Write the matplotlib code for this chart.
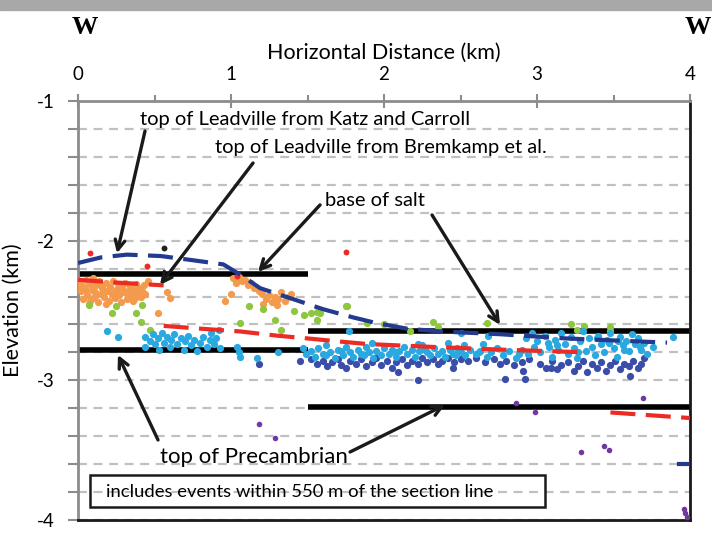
import matplotlib.pyplot as plt
from matplotlib.patches import Rectangle

plt.rcParams['font.family'] = ['Lato', 'DejaVu Sans']
plt.rcParams['axes.unicode_minus'] = False

# --- event clouds (x = horizontal distance km, y = elevation km) ---
orange_x = [0.01, 0.02, 0.03, 0.04, 0.05, 0.06, 0.07, 0.08, 0.09, 0.10, 0.10, 0.11, 0.12, 0.13, 0.14, 0.15,
            0.16, 0.17, 0.18, 0.19, 0.20, 0.21, 0.22, 0.23, 0.24, 0.25, 0.26, 0.27, 0.28, 0.29, 0.30, 0.31,
            0.32, 0.33, 0.34, 0.35, 0.36, 0.37, 0.38, 0.39, 0.40, 0.41, 0.42, 0.43, 0.44, 0.05, 0.12, 0.18,
            0.24, 0.33, 0.02, 0.08, 0.15, 0.27, 0.36, 0.58, 0.60, 0.52, 0.46,
            1.01, 1.03, 1.05, 1.07, 1.09, 1.11, 1.13, 1.15, 1.18, 1.00, 1.20, 1.23, 1.25, 1.27, 1.29, 1.31,
            1.33, 1.35, 1.37, 1.39, 1.21, 1.30, 0.96]
orange_y = [-2.30, -2.36, -2.42, -2.33, -2.28, -2.39, -2.45, -2.31, -2.35, -2.27, -2.41, -2.37, -2.32, -2.44,
            -2.29, -2.38, -2.34, -2.40, -2.30, -2.36, -2.43, -2.33, -2.38, -2.29, -2.41, -2.35, -2.31, -2.39,
            -2.44, -2.34, -2.37, -2.30, -2.42, -2.36, -2.33, -2.39, -2.35, -2.41, -2.31, -2.37, -2.34, -2.40,
            -2.36, -2.32, -2.38, -2.35, -2.39, -2.45, -2.37, -2.40, -2.33, -2.43, -2.31, -2.34, -2.43, -2.37,
            -2.41, -2.52, -2.29,
            -2.27, -2.30, -2.26, -2.29, -2.28, -2.32, -2.30, -2.34, -2.36, -2.38, -2.38, -2.42, -2.39, -2.44,
            -2.40, -2.42, -2.37, -2.43, -2.40, -2.38, -2.45, -2.46, -2.43]

green_x = [0.07, 0.22, 0.25, 0.38, 0.42, 0.41, 0.47, 1.06, 1.12, 1.21, 1.29, 1.33, 1.41, 1.48, 1.56, 1.56,
           1.75, 1.52, 1.58, 1.76, 1.89, 2.00, 2.17, 2.32, 2.35, 2.67, 3.22, 3.31, 3.48, 3.48, 3.26]
green_y = [-2.46, -2.52, -2.47, -2.52, -2.46, -2.58, -2.64, -2.59, -2.47, -2.49, -2.57, -2.64, -2.50, -2.53,
           -2.51, -2.57, -2.47, -2.52, -2.52, -2.47, -2.59, -2.60, -2.65, -2.58, -2.62, -2.59, -2.60, -2.61,
           -2.62, -2.65, -2.64]

lblue_x = [0.19, 0.26, 0.44, 0.44, 0.47, 0.49, 0.50, 0.52, 0.53, 0.55, 0.56, 0.58, 0.60, 0.61, 0.63, 0.65,
           0.67, 0.69, 0.70, 0.72, 0.74, 0.76, 0.78, 0.80, 0.82, 0.84, 0.86, 0.87, 0.89, 0.90, 0.92, 0.93,
           1.04, 1.05, 1.06, 1.17, 1.31, 1.47, 1.49,
           1.52, 1.55, 1.57, 1.60, 1.62, 1.65, 1.68, 1.70, 1.73, 1.75, 1.78, 1.80, 1.83, 1.85, 1.88, 1.90,
           1.93, 1.95, 1.98, 2.00, 2.03, 2.05, 2.08, 2.10, 2.13, 2.15, 2.18, 2.20, 2.23, 2.25, 2.28, 2.30,
           2.33, 2.35, 2.38, 2.40, 2.43, 2.45, 2.48, 2.50, 2.53, 2.56, 2.60, 2.63, 2.67, 2.70, 2.74, 2.78,
           2.82, 2.86, 2.90, 2.94, 2.98, 1.92, 2.22, 2.52, 2.42, 2.65,
           3.00, 3.02, 3.05, 3.08, 3.10, 3.12, 3.14, 3.16, 3.18, 3.20, 3.22, 3.24, 3.26, 3.28, 3.30, 3.32,
           3.34, 3.36, 3.38, 3.40, 3.42, 3.44, 3.46, 3.48, 3.50, 3.52, 3.54, 3.56, 3.58, 3.60, 3.62, 3.64,
           3.66, 3.68, 3.70, 3.72, 3.76, 3.89, 2.68, 2.93, 2.50, 1.77, 2.97,
           1.62, 1.72, 1.87, 2.07, 2.27, 2.47, 2.62, 2.88, 3.07, 3.27, 3.47, 3.57, 3.67, 3.13, 3.39, 3.53]
lblue_y = [-2.65, -2.69, -2.69, -2.76, -2.72, -2.67, -2.74, -2.70, -2.78, -2.66, -2.73, -2.69, -2.76, -2.71,
           -2.67, -2.74, -2.70, -2.78, -2.72, -2.68, -2.75, -2.71, -2.79, -2.73, -2.69, -2.76, -2.71, -2.66,
           -2.74, -2.70, -2.64, -2.77, -2.76, -2.80, -2.83, -2.84, -2.80, -2.77, -2.81,
           -2.79, -2.83, -2.77, -2.81, -2.75, -2.80, -2.84, -2.78, -2.82, -2.76, -2.80, -2.83, -2.78, -2.81,
           -2.76, -2.80, -2.84, -2.79, -2.82, -2.77, -2.81, -2.78, -2.83, -2.79, -2.76, -2.81, -2.78, -2.83,
           -2.79, -2.75, -2.80, -2.82, -2.77, -2.81, -2.79, -2.83, -2.78, -2.81, -2.77, -2.80, -2.82, -2.78,
           -2.81, -2.79, -2.83, -2.80, -2.77, -2.82, -2.79, -2.84, -2.78, -2.81, -2.76, -2.73, -2.74, -2.75,
           -2.73, -2.74,
           -2.72, -2.80, -2.68, -2.76, -2.83, -2.71, -2.78, -2.66, -2.74, -2.81, -2.69, -2.77, -2.84, -2.72,
           -2.65, -2.79, -2.70, -2.76, -2.82, -2.68, -2.74, -2.80, -2.71, -2.66, -2.77, -2.83, -2.69, -2.75,
           -2.72, -2.79, -2.67, -2.74, -2.70, -2.78, -2.73, -2.81, -2.76, -2.69, -2.68, -2.70, -2.66, -2.65,
           -2.66,
           -2.82, -2.79, -2.82, -2.80, -2.78, -2.82, -2.80, -2.81, -2.73, -2.80, -2.73, -2.78, -2.76, -2.75,
           -2.70, -2.72]

dblue_x = [1.18, 1.45, 1.52, 1.56, 1.60, 1.63, 1.66, 1.70, 1.72, 1.78, 1.82, 1.85, 1.88, 1.92, 1.95, 1.98,
           2.02, 2.05, 2.08, 2.12, 2.15, 2.18, 2.22, 2.25, 2.28, 2.32, 2.35, 2.38, 2.42, 2.46, 2.50, 2.55,
           2.60, 2.66, 2.72, 2.76, 2.80, 2.85, 2.90, 2.95, 3.02, 3.06, 3.10, 3.13, 3.16, 3.20, 3.24, 3.27,
           3.30, 3.33, 3.36, 3.39, 3.42, 3.45, 3.48, 3.51, 3.54, 3.57, 3.60, 3.63, 3.66, 3.68, 3.70,
           1.75, 2.09, 2.22, 2.45, 2.79, 2.91, 2.92, 3.09, 3.61]
dblue_y = [-2.88, -2.86, -2.85, -2.88, -2.86, -2.90, -2.87, -2.85, -2.89, -2.86, -2.88, -2.85, -2.90, -2.87,
           -2.84, -2.89, -2.86, -2.91, -2.87, -2.85, -2.89, -2.86, -2.88, -2.84, -2.87, -2.85, -2.88, -2.86,
           -2.84, -2.87, -2.85, -2.86, -2.84, -2.87, -2.85, -2.88, -2.86, -2.89, -2.87, -2.85, -2.88, -2.91,
           -2.86, -2.92, -2.89, -2.87, -2.93, -2.90, -2.86, -2.94, -2.88, -2.91, -2.87, -2.93, -2.89, -2.86,
           -2.92, -2.88, -2.90, -2.86, -2.91, -2.88, -2.84,
           -2.91, -2.94, -3.00, -2.91, -2.99, -2.93, -2.99, -2.91, -2.97]

purple_x = [1.18, 1.29, 2.86, 2.99, 3.69, 3.29, 3.44, 3.47, 3.96, 3.97, 3.98]
purple_y = [-3.31, -3.41, -3.16, -3.23, -3.13, -3.51, -3.47, -3.50, -3.92, -3.95, -3.98]

red_x = [0.08, 0.45, 1.75, 1.04]
red_y = [-2.09, -2.18, -2.08, -2.25]
black_x = [0.56]
black_y = [-2.05]

# --- interpreted horizons ---
katz_x = [0, 0.15, 0.32, 0.54, 0.75, 0.95, 1.07, 1.19, 1.41, 1.6, 1.8, 1.95, 2.15, 2.37, 2.76, 3.19, 3.85]
katz_y = [-2.16, -2.12, -2.10, -2.11, -2.14, -2.17, -2.25, -2.34, -2.42, -2.49, -2.55, -2.59, -2.63,
          -2.65, -2.67, -2.70, -2.73]
katz2_x = [3.93, 4.0]
katz2_y = [-3.60, -3.60]

brem1_x = [0, 0.25, 0.56]
brem1_y = [-2.28, -2.30, -2.32]
brem2_x = [0.56, 0.8, 1.06, 1.3, 1.5, 1.69, 1.89, 2.3, 2.76, 3.33]
brem2_y = [-2.61, -2.63, -2.65, -2.68, -2.70, -2.72, -2.74, -2.76, -2.78, -2.80]
brem3_x = [3.48, 4.0]
brem3_y = [-3.23, -3.27]

salt_x = [[0, 1.5], [1.5, 4.0]]
salt_y = [-2.24, -2.65]
precamb_x = [[0, 1.5], [1.5, 4.0]]
precamb_y = [-2.78, -3.19]

fig = plt.figure(figsize=(7.12, 5.33), dpi=100)
fig.patches.append(Rectangle((0, 1 - 10 / 533), 1, 10 / 533, transform=fig.transFigure,
                             color='#a8a8a8', zorder=0))
ax = fig.add_axes([78 / 712, 1 - 520 / 533, 612 / 712, 419 / 533])
ax.set_xlim(0, 4)
ax.set_ylim(-4, -1)

# gridlines
ax.set_yticks([-4, -3, -2, -1])
ax.set_yticks([-3.8, -3.6, -3.4, -3.2, -2.8, -2.6, -2.4, -2.2, -1.8, -1.6, -1.4, -1.2], minor=True)
ax.yaxis.grid(True, which='both', ls=(0, (4, 3)), color='#c0c0c0', lw=1.6, zorder=0)
ax.set_axisbelow(True)

# black horizons
for xs, yv in zip(salt_x, salt_y):
    ax.plot(xs, [yv, yv], color='black', lw=4, solid_capstyle='butt', zorder=2)
for xs, yv in zip(precamb_x, precamb_y):
    ax.plot(xs, [yv, yv], color='black', lw=4, solid_capstyle='butt', zorder=2)

# events
kw = dict(s=27, linewidths=0, zorder=3)
ax.scatter(orange_x, orange_y, color='#F39A4C', **kw)
ax.scatter(green_x, green_y, color='#8DC63F', **kw)
ax.scatter(dblue_x, dblue_y, color='#3A4DA8', **kw)
ax.scatter(lblue_x, lblue_y, color='#2AA8E0', **kw)
ax.scatter(purple_x, purple_y, color='#6F3A9E', s=16, linewidths=0, zorder=3)
ax.scatter(red_x, red_y, color='#EE2A24', s=18, linewidths=0, zorder=3)
ax.scatter(black_x, black_y, color='#222222', s=18, linewidths=0, zorder=3)

# dashed horizons
ax.plot(katz_x, katz_y, color='#233A8F', lw=3, dashes=(6, 2.5), zorder=4)
ax.plot(katz2_x, katz2_y, color='#233A8F', lw=3, zorder=4)
for xs, ys in [(brem1_x, brem1_y), (brem2_x, brem2_y), (brem3_x, brem3_y)]:
    ax.plot(xs, ys, color='#EE2A24', lw=3, dashes=(6, 2.5), zorder=4)

# axes styling
ax.xaxis.tick_top()
ax.xaxis.set_label_position('top')
ax.set_xticks([0, 1, 2, 3, 4])
ax.set_xticks([0.5, 1.5, 2.5, 3.5], minor=True)
ax.set_xticklabels(['0', '1', '2', '3', '4'])
ax.set_yticklabels(['-4', '-3', '-2', '-1'])
ax.tick_params(axis='x', which='major', direction='inout', length=10, width=1.5, color='#8c8c8c',
               labelsize=13.5, pad=8)
ax.tick_params(axis='x', which='minor', direction='out', length=4, width=1.5, color='#8c8c8c')
ax.tick_params(axis='y', which='both', direction='out', length=7, width=1.5, color='#8c8c8c',
               labelsize=13.5, pad=10)
ax.set_xlabel('Horizontal Distance (km)', fontsize=15.5, labelpad=5)
ax.set_ylabel('Elevation (km)', fontsize=15.5, labelpad=10)
for side in ['top', 'left']:
    ax.spines[side].set_color('#8c8c8c')
    ax.spines[side].set_linewidth(2)
for side in ['right', 'bottom']:
    ax.spines[side].set_color('#1a1a1a')
    ax.spines[side].set_linewidth(2)

# annotations
arrow = dict(arrowstyle='->,head_length=0.7,head_width=0.35', color='#1a1a1a', lw=2.4,
             shrinkA=0, shrinkB=0)
ax.text(0.405, -1.136, 'top of Leadville from Katz and Carroll', fontsize=14.5, va='center')
ax.text(0.895, -1.33, 'top of Leadville from Bremkamp et al.', fontsize=14.5, va='center')
ax.text(1.614, -1.71, 'base of salt', fontsize=14.5, va='center')
ax.text(0.536, -3.55, 'top of Precambrian', fontsize=16, va='center')
ax.annotate('', xy=(0.255, -2.09), xytext=(0.438, -1.215), arrowprops=arrow)
ax.annotate('', xy=(0.536, -2.317), xytext=(1.144, -1.444), arrowprops=arrow)
ax.annotate('', xy=(1.176, -2.224), xytext=(1.582, -1.744), arrowprops=arrow)
ax.annotate('', xy=(2.758, -2.603), xytext=(2.314, -1.816), arrowprops=arrow)
ax.annotate('', xy=(0.261, -2.818), xytext=(0.523, -3.427), arrowprops=arrow)
ax.annotate('', xy=(2.399, -3.176), xytext=(1.778, -3.513), arrowprops=arrow)

ax.add_patch(Rectangle((0.08, -3.91), 2.97, 0.235, fill=False, ec='#1a1a1a', lw=1.8, zorder=5))
ax.text(0.183, -3.80, 'includes events within 550 m of the section line', fontsize=13.3, va='center', zorder=5)

fig.text(85 / 712, 1 - 28 / 533, 'W', fontsize=19, fontweight='bold', family='Liberation Serif',
         ha='center', va='center')
fig.text(711 / 712, 1 - 28 / 533, 'W', fontsize=19, fontweight='bold', family='Liberation Serif',
         ha='right', va='center')

fig.savefig('out.png', dpi=100)
